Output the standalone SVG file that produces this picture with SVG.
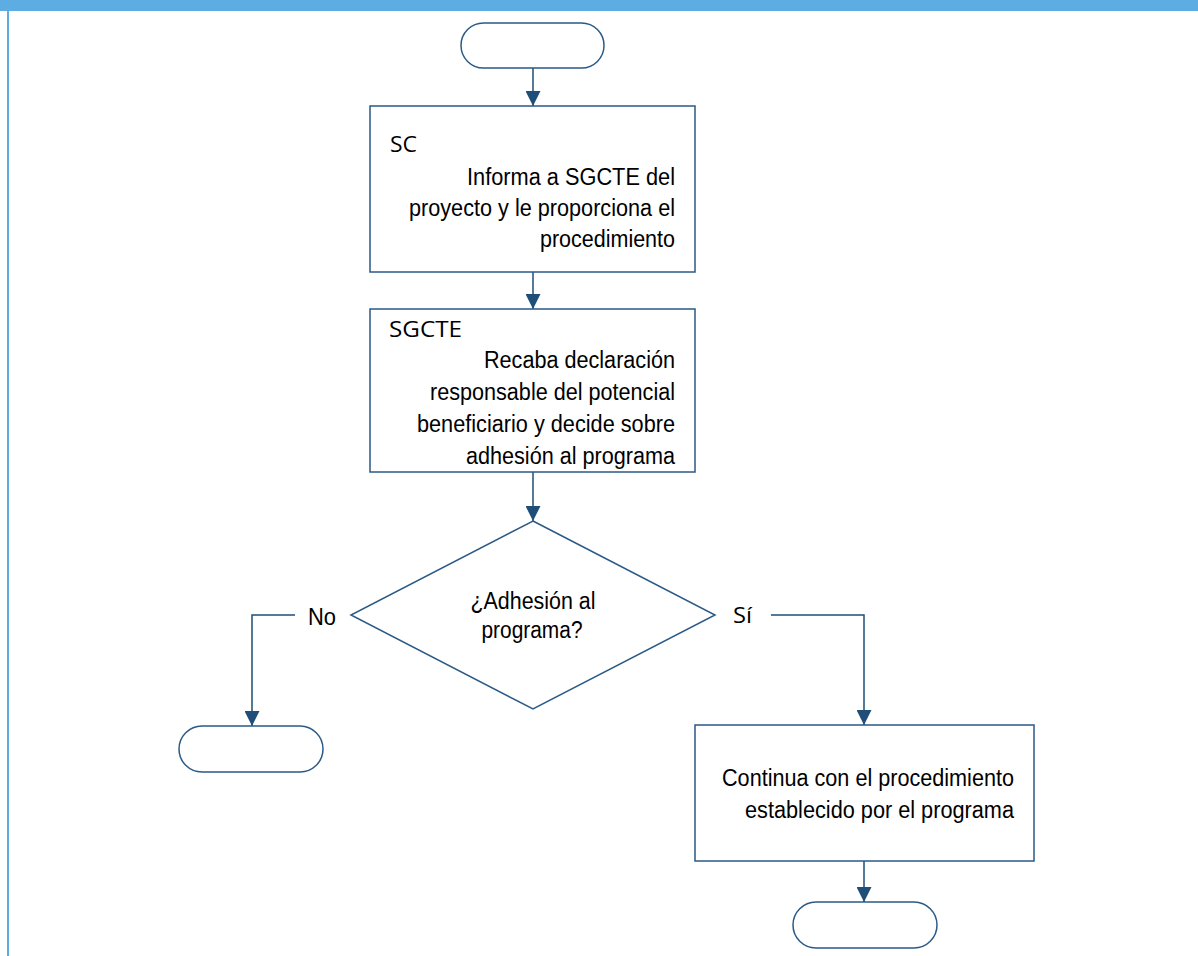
<svg xmlns="http://www.w3.org/2000/svg" width="1198" height="956" viewBox="0 0 1198 956">
  <defs>
    <marker id="arrow" markerUnits="userSpaceOnUse" markerWidth="15" markerHeight="15" refX="15" refY="7.5" orient="auto">
      <path d="M0,0 L15,7.5 L0,15 z" fill="#1F4E79"/>
    </marker>
    <style>
      .shape { fill: #ffffff; stroke: #2B5A87; stroke-width: 1.5; }
      .conn { fill: none; stroke: #1F4E79; stroke-width: 1.5; marker-end: url(#arrow); }
      .body { font-family: "Liberation Sans", Arial, sans-serif; font-size: 23.5px; fill: #000000; }
      .right { text-anchor: end; }
      .mid { text-anchor: middle; }
      .actor { font-family: "Open Sans", "Noto Sans", sans-serif; font-size: 22.5px; font-weight: 500; fill: #000000; }
    </style>
  </defs>

  <!-- page frame -->
  <rect x="0" y="0" width="1198" height="956" fill="#ffffff"/>
  <rect x="0" y="0" width="1198" height="11" fill="#5DADE2"/>
  <rect x="7" y="0" width="2" height="956" fill="#5DADE2"/>

  <!-- connectors -->
  <g id="connectors">
    <line class="conn" x1="533" y1="68" x2="533" y2="106"/>
    <line class="conn" x1="533" y1="272" x2="533" y2="309"/>
    <line class="conn" x1="533" y1="472" x2="533" y2="521"/>
    <polyline class="conn" points="295,615 252,615 252,726"/>
    <polyline class="conn" points="771,615 864,615 864,725"/>
    <line class="conn" x1="864" y1="861" x2="864" y2="902"/>
  </g>

  <g id="start">
    <rect class="shape" x="461" y="23" width="143" height="45" rx="22.5" ry="22.5"/>
  </g>

  <g id="sc-informa">
    <rect class="shape" x="370" y="106" width="325" height="166"/>
    <text class="actor" x="390" y="152" textLength="27" lengthAdjust="spacingAndGlyphs">SC</text>
    <text class="body right" x="675" y="185" textLength="208" lengthAdjust="spacingAndGlyphs">Informa a SGCTE del</text>
    <text class="body right" x="675" y="216" textLength="266" lengthAdjust="spacingAndGlyphs">proyecto y le proporciona el</text>
    <text class="body right" x="675" y="247" textLength="135" lengthAdjust="spacingAndGlyphs">procedimiento</text>
  </g>

  <g id="sgcte-recaba">
    <rect class="shape" x="370" y="309" width="325" height="163"/>
    <text class="actor" x="389" y="337" textLength="73" lengthAdjust="spacingAndGlyphs">SGCTE</text>
    <text class="body right" x="675" y="368" textLength="191" lengthAdjust="spacingAndGlyphs">Recaba declaración</text>
    <text class="body right" x="675" y="400" textLength="245" lengthAdjust="spacingAndGlyphs">responsable del potencial</text>
    <text class="body right" x="675" y="432" textLength="258" lengthAdjust="spacingAndGlyphs">beneficiario y decide sobre</text>
    <text class="body right" x="675" y="464" textLength="209" lengthAdjust="spacingAndGlyphs">adhesión al programa</text>
  </g>

  <g id="decision">
    <polygon class="shape" points="533,521 715,615 533,709 351,615"/>
    <text class="body mid" x="533" y="609" textLength="125" lengthAdjust="spacingAndGlyphs">¿Adhesión al</text>
    <text class="body mid" x="532" y="638" textLength="101" lengthAdjust="spacingAndGlyphs">programa?</text>
    <text class="body" x="308" y="625" textLength="28" lengthAdjust="spacingAndGlyphs">No</text>
    <text class="actor" x="733" y="623" textLength="19" lengthAdjust="spacingAndGlyphs">Sí</text>
  </g>

  <g id="end-no">
    <rect class="shape" x="179" y="726" width="144" height="46" rx="23" ry="23"/>
  </g>

  <g id="continua">
    <rect class="shape" x="695" y="725" width="339" height="136"/>
    <text class="body right" x="1014" y="786" textLength="292" lengthAdjust="spacingAndGlyphs">Continua con el procedimiento</text>
    <text class="body right" x="1014" y="818" textLength="269" lengthAdjust="spacingAndGlyphs">establecido por el programa</text>
  </g>

  <g id="end-si">
    <rect class="shape" x="793" y="902" width="144" height="46" rx="23" ry="23"/>
  </g>
</svg>
